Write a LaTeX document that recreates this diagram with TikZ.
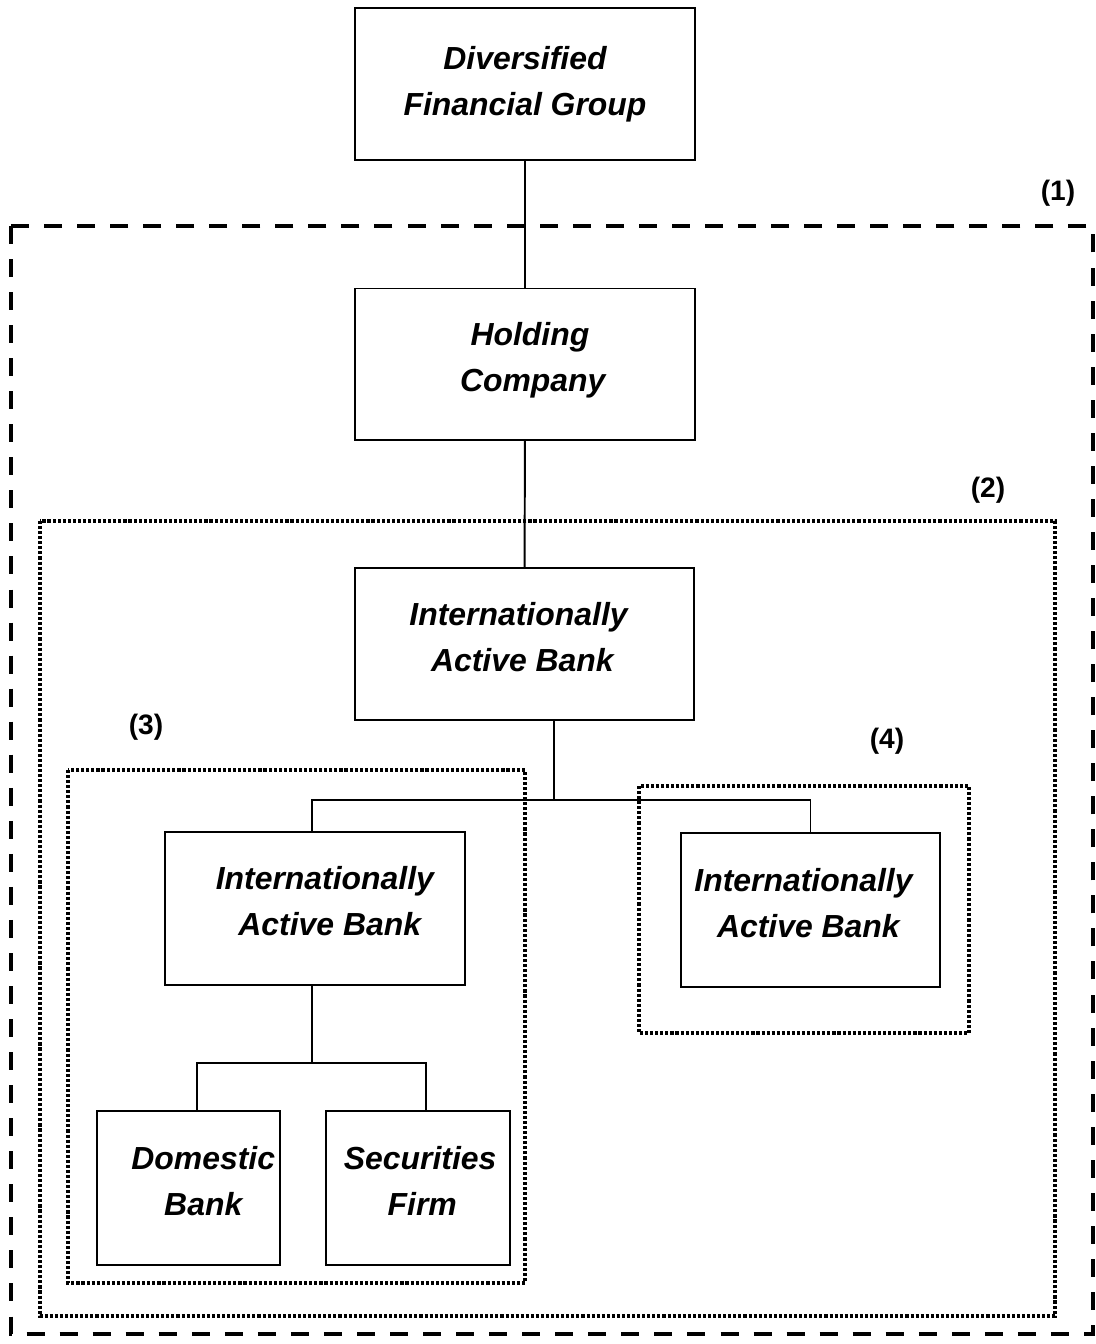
\documentclass[tikz,border=0pt]{standalone}
\usepackage{fontspec}
\setmainfont{Liberation Sans}
\usetikzlibrary{positioning}

\begin{document}
\begin{tikzpicture}[x=0.025cm,y=-0.025cm]
\tikzset{
  org/.style={draw,line width=1.4pt,align=center,inner sep=0pt,
    font=\fontsize{22.7}{32.7}\selectfont\bfseries\itshape},
  lifted/.style={execute at end node={\rule[-10.5pt]{0pt}{10.5pt}}},
  tag/.style={font=\fontsize{20}{24}\selectfont\bfseries},
  link/.style={line width=1.4pt},
  grp/.style={line width=2.2pt,dash pattern=on 2.2pt off 1.4pt},
  outer/.style={line width=3.5pt,dash pattern=on 12.8pt off 10.7pt}
}
\useasboundingbox (0,0) rectangle (1096,1344);

\node[org,minimum width=8.5cm,minimum height=3.8cm] (dfg) at (525,84) {Diversified\\Financial Group};
\node[org,lifted,minimum width=8.5cm,minimum height=3.775cm] (hc) at (525,364) {\hspace*{7pt}Holding\\\hspace*{11pt}Company};
\node[org,lifted,minimum width=8.475cm,minimum height=3.8cm] (iab) at (524.5,644) {Internationally\hspace*{8.5pt}\\Active Bank\hspace*{3pt}};
\node[org,lifted,minimum width=7.5cm,minimum height=3.825cm] (iabl) at (315,908.5) {\hspace*{14pt}Internationally\\\hspace*{21pt}Active Bank};
\node[org,lifted,minimum width=6.475cm,minimum height=3.85cm] (iabr) at (810.5,910) {Internationally\hspace*{10pt}\\Active Bank\hspace*{3pt}};
\node[org,lifted,minimum width=4.575cm,minimum height=3.85cm] (db) at (188.5,1188) {\hspace*{21pt}Domestic\\\hspace*{21pt}Bank};
\node[org,lifted,minimum width=4.6cm,minimum height=3.85cm] (sf) at (418,1188) {\hspace*{3pt}Securities\\\hspace*{6pt}Firm};

% groups
\draw[outer] (11,226) rectangle (1093,1334);
\draw[grp] (40,521) rectangle (1055,1316);
\draw[grp] (68,770) rectangle (525,1283);
\draw[grp] (639,786) rectangle (969,1033);

\node[tag] (t1) at (1058,193) {(1)};
\node[tag] (t2) at (988,490) {(2)};
\node[tag] (t3) at (146,727) {(3)};
\node[tag] (t4) at (887,741) {(4)};

% links
\coordinate (j1) at (554,800);
\coordinate (j2) at (312,1063);
\draw[link] (dfg) -- (hc);
\draw[link] (hc) -- (iab);
\draw[link] (iab.south -| j1) -- (j1);
\draw[link] ([xshift=-0.075cm]iabl.north) |- (j1) -| (iabr.north);
\draw[link] (iabl.south -| j2) -- (j2);
\draw[link] ([xshift=0.21cm]db.north) |- (j2) -| ([xshift=0.2cm]sf.north);

\end{tikzpicture}
\end{document}
